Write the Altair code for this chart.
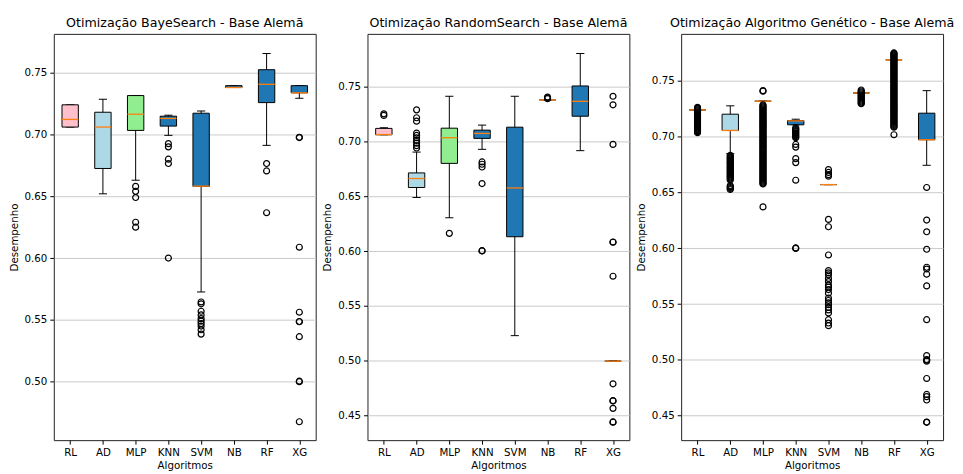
import altair as alt
import pandas as pd

categories = ["RL", "AD", "MLP", "KNN", "SVM", "NB", "RF", "XG"]
box_fill = ["#ffc0cb", "#add8e6", "#90ee90", "#1f77b4", "#1f77b4", "#1f77b4", "#1f77b4", "#1f77b4"]
y_ticks = [0.45, 0.50, 0.55, 0.60, 0.65, 0.70, 0.75]

# ---------------- Panel 1: BayeSearch ----------------
bs_title = "Otimização BayeSearch - Base Alemã"
bs_whislo = [0.706, 0.652, 0.663, 0.6993, 0.5726, 0.738, 0.6912, 0.7293]
bs_q1 = [0.706, 0.6725, 0.7033, 0.7068, 0.658, 0.738, 0.7258, 0.7337]
bs_med = [0.7122, 0.706, 0.7164, 0.713, 0.6582, 0.738, 0.7406, 0.7337]
bs_q3 = [0.724, 0.718, 0.7315, 0.7148, 0.7172, 0.7395, 0.7524, 0.7395]
bs_whishi = [0.724, 0.7285, 0.7315, 0.7156, 0.719, 0.7395, 0.7655, 0.7395]
bs_fliers = {
    "MLP": [0.658, 0.654, 0.649, 0.629, 0.625],
    "KNN": [0.6926, 0.690, 0.680, 0.6765, 0.600],
    "SVM": [0.5645, 0.563, 0.557, 0.554, 0.551, 0.549, 0.547, 0.545, 0.542, 0.5385],
    "RF": [0.6765, 0.6705, 0.6367],
    "XG": [0.6977, 0.6975, 0.6088, 0.5562, 0.5487, 0.5485, 0.5364, 0.5004, 0.5, 0.4676],
}
bs_domain = [0.4527, 0.7814]

# ---------------- Panel 2: RandomSearch ----------------
rs_title = "Otimização RandomSearch - Base Alemã"
rs_whislo = [0.7061, 0.6489, 0.6304, 0.6928, 0.5229, 0.738, 0.6916, 0.4996]
rs_q1 = [0.7061, 0.658, 0.680, 0.7028, 0.6131, 0.738, 0.723, 0.4996]
rs_med = [0.7063, 0.6662, 0.7034, 0.7073, 0.6576, 0.738, 0.7366, 0.4996]
rs_q3 = [0.7119, 0.6713, 0.7121, 0.7103, 0.713, 0.738, 0.7506, 0.4996]
rs_whishi = [0.7125, 0.6903, 0.7412, 0.7149, 0.7412, 0.738, 0.7802, 0.4996]
rs_fliers = {
    "RL": [0.7252, 0.7237],
    "AD": [0.7288, 0.7216, 0.7185, 0.7076, 0.7055, 0.7034, 0.701, 0.6985, 0.6961, 0.694],
    "MLP": [0.6162],
    "KNN": [0.6813, 0.6792, 0.6767, 0.6616, 0.6004, 0.6002],
    "NB": [0.7405, 0.7398, 0.739],
    "XG": [0.7412, 0.7334, 0.6973, 0.6083, 0.6081, 0.5771, 0.479, 0.4636, 0.4634,
           0.4566, 0.4442, 0.444],
}
rs_domain = [0.4276, 0.7981]

# ---------------- Panel 3: Genetic Algorithm ----------------
ga_title = "Otimização Algoritmo Genético - Base Alemã"
ga_whislo = [0.7241, 0.6848, 0.7318, 0.7107, 0.6571, 0.7393, 0.769, 0.6744]
ga_q1 = [0.7241, 0.7056, 0.7318, 0.7107, 0.6571, 0.7393, 0.769, 0.6973]
ga_med = [0.7241, 0.7056, 0.7318, 0.7142, 0.6571, 0.7393, 0.769, 0.6973]
ga_q3 = [0.7241, 0.7202, 0.7318, 0.7145, 0.6571, 0.7393, 0.769, 0.7211]
ga_whishi = [0.7241, 0.7277, 0.7318, 0.7157, 0.6571, 0.7393, 0.769, 0.7413]
ga_fliers = {
    "RL": [0.7264, 0.7257, 0.7249, 0.7241, 0.7232, 0.7224, 0.7215, 0.7207, 0.7198,
           0.7190, 0.7181, 0.7173, 0.7164, 0.7156, 0.7147, 0.7139, 0.7130, 0.7122,
           0.7113, 0.7105, 0.7096, 0.7088, 0.7079, 0.7071, 0.7062, 0.7054, 0.7045,
           0.7036],
    "AD": [0.6833, 0.6825, 0.6817, 0.6808, 0.6800, 0.6791, 0.6783, 0.6774, 0.6766,
           0.6757, 0.6749, 0.6740, 0.6731, 0.6723, 0.6714, 0.6706, 0.6697, 0.6689,
           0.6680, 0.6672, 0.6663, 0.6655, 0.6646, 0.6638, 0.6629, 0.6621, 0.6612,
           0.6562, 0.6553, 0.6545, 0.6536, 0.6527],
    "MLP": [0.7413, 0.7409,
            0.7286, 0.7277, 0.7268, 0.7259, 0.7250, 0.7241, 0.7232, 0.7223, 0.7214, 0.7205,
            0.7196, 0.7187, 0.7178, 0.7169, 0.7160, 0.7151, 0.7142, 0.7133, 0.7124, 0.7115,
            0.7106, 0.7097, 0.7088, 0.7079, 0.7070, 0.7061, 0.7052, 0.7043, 0.7034, 0.7025,
            0.7016, 0.7007, 0.6998, 0.6989, 0.6980, 0.6971, 0.6962, 0.6953, 0.6944, 0.6935,
            0.6926, 0.6917, 0.6908, 0.6899, 0.6890, 0.6881, 0.6872, 0.6863, 0.6854, 0.6845,
            0.6836, 0.6827, 0.6818, 0.6809, 0.6800, 0.6791, 0.6782, 0.6773, 0.6764, 0.6755,
            0.6746, 0.6737, 0.6728, 0.6719, 0.6710, 0.6701, 0.6692, 0.6683, 0.6674, 0.6665,
            0.6656, 0.6647, 0.6638, 0.6629, 0.6620, 0.6611, 0.6602, 0.6593, 0.6584, 0.6577,
            0.6371],
    "KNN": [0.7081, 0.7072, 0.7063, 0.7054, 0.7045, 0.7036, 0.7027, 0.7018, 0.7009,
            0.7000, 0.6991, 0.6931, 0.6907, 0.6804, 0.6768, 0.661, 0.6003, 0.5999],
    "SVM": [0.6705, 0.668, 0.666, 0.6646, 0.6259, 0.6193, 0.594, 0.580, 0.578, 0.5762,
            0.573, 0.5702, 0.567, 0.5652, 0.563, 0.5598, 0.5554, 0.5532, 0.551, 0.5494,
            0.547, 0.5447, 0.542, 0.536, 0.533, 0.5306],
    "NB": [0.7419, 0.7410, 0.7401, 0.7392, 0.7383, 0.7374, 0.7365, 0.7356, 0.7347,
           0.7338, 0.7329, 0.7320, 0.7311, 0.7302, 0.7296],
    "RF": [0.7751, 0.7747,
           0.7740, 0.7731, 0.7722, 0.7713, 0.7704, 0.7695, 0.7686, 0.7677, 0.7668, 0.7659,
           0.7650, 0.7641, 0.7632, 0.7623, 0.7614, 0.7605, 0.7596, 0.7587, 0.7578, 0.7569,
           0.7560, 0.7551, 0.7542, 0.7533, 0.7524, 0.7515, 0.7506, 0.7497, 0.7488, 0.7479,
           0.7470, 0.7461, 0.7452, 0.7443, 0.7434, 0.7425, 0.7416, 0.7407, 0.7398, 0.7389,
           0.7380, 0.7371, 0.7362, 0.7353, 0.7344, 0.7335, 0.7326, 0.7317, 0.7308, 0.7299,
           0.7290, 0.7281, 0.7272, 0.7263, 0.7254, 0.7245, 0.7236, 0.7227, 0.7218, 0.7209,
           0.7200, 0.7191, 0.7182, 0.7173, 0.7164, 0.7155, 0.7146, 0.7137, 0.7128, 0.7119,
           0.7110, 0.7101, 0.7092, 0.7085, 0.7018],
    "XG": [0.6545, 0.6253, 0.6148, 0.5991, 0.583, 0.5814, 0.5768, 0.5663, 0.536,
           0.5038, 0.5003, 0.4998, 0.4988, 0.4833, 0.469, 0.467, 0.464, 0.4442, 0.444],
}
ga_domain = [0.428, 0.7922]

BLACK = "#000000"
ORANGE = "#ff7f0e"
FONT = "DejaVu Sans"


def make_panel(title, whislo, q1, med, q3, whishi, fliers, domain):
    stats = pd.DataFrame({
        "alg": categories,
        "pos": list(range(1, len(categories) + 1)),
        "wl": whislo, "q1": q1, "med": med, "q3": q3, "wh": whishi,
        "fill": box_fill,
    })
    stats["lo"] = stats["pos"] - 0.25
    stats["hi"] = stats["pos"] + 0.25
    stats["clo"] = stats["pos"] - 0.125
    stats["chi"] = stats["pos"] + 0.125

    rows = []
    for alg, vals in fliers.items():
        p = categories.index(alg) + 1
        for v in vals:
            rows.append({"alg": alg, "pos": p, "val": v})
    out = pd.DataFrame(rows)

    label_expr = "[" + ",".join("'%s'" % c for c in categories) + "][datum.value - 1]"
    xscale = alt.Scale(domain=[0.5, len(categories) + 0.5], nice=False, zero=False)
    xaxis = alt.Axis(values=list(range(1, len(categories) + 1)), labelExpr=label_expr,
                     title="Algoritmos", grid=False)
    yscale = alt.Scale(domain=domain, nice=False, zero=False)
    yaxis = alt.Axis(values=y_ticks, format=".2f", title="Desempenho", grid=True)

    def X(f):
        return alt.X(f + ":Q", scale=xscale, axis=xaxis)

    def Y(f):
        return alt.Y(f + ":Q", scale=yscale, axis=yaxis)

    base = alt.Chart(stats)
    whisk = base.mark_rule(color=BLACK, strokeWidth=1).encode(
        x=X("pos"), y=Y("wl"), y2="wh")
    cap_lo = base.mark_rule(color=BLACK, strokeWidth=1).encode(
        x=X("clo"), x2="chi", y=Y("wl"))
    cap_hi = base.mark_rule(color=BLACK, strokeWidth=1).encode(
        x=X("clo"), x2="chi", y=Y("wh"))
    box = base.mark_rect(stroke=BLACK, strokeWidth=1).encode(
        x=X("lo"), x2="hi", y=Y("q1"), y2="q3",
        fill=alt.Fill("fill:N", scale=None))
    median = base.mark_rule(color=ORANGE, strokeWidth=1.3).encode(
        x=X("lo"), x2="hi", y=Y("med"))
    pts = alt.Chart(out).mark_point(shape="circle", filled=False, color=BLACK,
                                    size=36, strokeWidth=1.2, opacity=1).encode(
        x=X("pos"), y=Y("val"))

    return alt.layer(whisk, cap_lo, cap_hi, box, median, pts).properties(
        width=263, height=408,
        title=alt.TitleParams(title, anchor="middle", frame="group", offset=4,
                              font=FONT, fontSize=12.7, fontWeight="normal",
                              color=BLACK),
    )


p1 = make_panel(bs_title, bs_whislo, bs_q1, bs_med, bs_q3, bs_whishi, bs_fliers, bs_domain)
p2 = make_panel(rs_title, rs_whislo, rs_q1, rs_med, rs_q3, rs_whishi, rs_fliers, rs_domain)
p3 = make_panel(ga_title, ga_whislo, ga_q1, ga_med, ga_q3, ga_whishi, ga_fliers, ga_domain)

chart = alt.hconcat(p1, p2, p3, spacing=5).properties(
    padding={"left": 0, "right": 0, "top": 7, "bottom": 0},
    background="white",
).configure_view(
    stroke="#222222", strokeWidth=1,
).configure_axis(
    labelFont=FONT, titleFont=FONT, labelFontSize=10.3, titleFontSize=10.3,
    labelColor=BLACK, titleColor=BLACK, titleFontWeight="normal",
    tickColor=BLACK, tickSize=4, labelPadding=3, domain=False,
    gridColor="#c4c4c4", gridWidth=0.9,
).configure_axisY(
    titlePadding=5,
).configure_axisX(
    titlePadding=3,
)

chart.save("out.html", embed_options={"renderer": "svg", "actions": False})
